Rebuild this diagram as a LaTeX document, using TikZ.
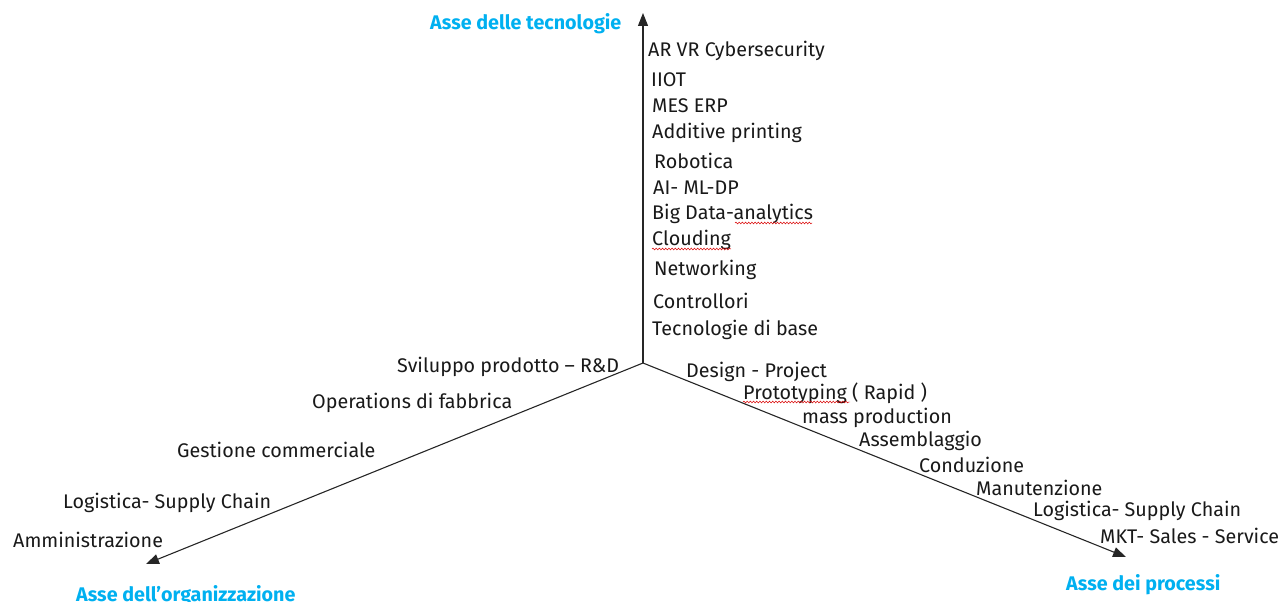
\documentclass[tikz,border=0pt]{standalone}
\usepackage{fontspec}
\setmainfont{Fira Sans}
\usetikzlibrary{arrows.meta,decorations.pathmorphing}
\definecolor{axisblue}{RGB}{0,176,240}
\tikzset{
  axis/.style={line width=1.1pt, draw=black!85, -{Triangle[length=13pt,width=10pt]}},
  item/.style={anchor=west, inner sep=0pt, font=\fontsize{19.8}{22}\selectfont, text=black!90},
  axislabel/.style={anchor=west, inner sep=0pt, font=\fontsize{19.8}{22}\selectfont\bfseries, text=axisblue},
  spell/.style={draw=red!85!black, line width=0.5pt, decorate, decoration={snake, amplitude=0.9pt, segment length=3.2pt}}
}
\begin{document}
\begin{tikzpicture}[x=1bp,y=-1bp]
\useasboundingbox (0,0) rectangle (1287,602);

% origin and axis ends
\coordinate (O) at (643,363);
\coordinate (techEnd) at (643,13);
\coordinate (orgEnd) at (146,564);
\coordinate (procEnd) at (1126,557);

\draw[axis] (O) -- (techEnd);
\draw[axis] (O) -- (orgEnd);
\draw[axis] (O) -- (procEnd);

% axis titles
\node[axislabel] (tTech) at (430,24) {Asse delle tecnologie};
\node[axislabel] (tOrg) at (76,596) {Asse dell’organizzazione};
\node[axislabel] (tProc) at (1066,585) {Asse dei processi};

% technology axis
\node[item] (t1) at (648,51) {AR VR Cybersecurity};
\node[item] (t2) at (651,80) {IIOT};
\node[item] (t3) at (652,106) {MES ERP};
\node[item] (t4) at (652,133) {Additive printing};
\node[item] (t5) at (654,161) {Robotica};
\node[item] (t6) at (653,188) {AI- ML-DP};
\node[item] (t7) at (652,214) {Big Data-analytics};
\node[item] (t8) at (652,240) {Clouding};
\node[item] (t9) at (654,270) {Networking};
\node[item] (t10) at (653,301) {Controllori};
\node[item] (t11) at (652,330) {Tecnologie di base};

% organisation axis
\node[item] (o1) at (397,367) {Sviluppo prodotto – R\&D};
\node[item] (o2) at (312,403) {Operations di fabbrica};
\node[item] (o3) at (177,450) {Gestione commerciale};
\node[item] (o4) at (63,503) {Logistica- Supply Chain};
\node[item] (o5) at (13,540) {Amministrazione};

% process axis
\node[item] (p1) at (686,372) {Design - Project};
\node[item] (p2) at (743,393) {Prototyping ( Rapid )};
\node[item] (p3) at (802,418) {mass production};
\node[item] (p4) at (859,441) {Assemblaggio};
\node[item] (p5) at (919,465) {Conduzione};
\node[item] (p6) at (976,488) {Manutenzione};
\node[item] (p7) at (1033,511) {Logistica- Supply Chain};
\node[item] (p8) at (1100,536) {MKT- Sales - Service};

% proofing marks
\draw[spell] (735,223) -- (812,223);
\draw[spell] (652,249) -- (731,249);
\draw[spell] (743,402) -- (850,402);
\end{tikzpicture}
\end{document}
